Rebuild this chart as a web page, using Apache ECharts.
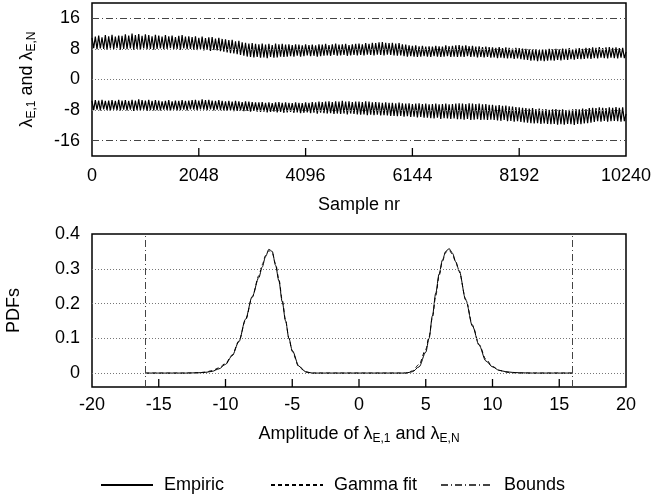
<!DOCTYPE html>
<html><head><meta charset="utf-8">
<script src="https://cdn.jsdelivr.net/npm/echarts@6/dist/echarts.min.js"></script>
<style>html,body{margin:0;padding:0;background:#fff}#c{width:654px;height:501px}</style>
</head><body><div id="c"></div>
<script>
// ---- top panel: eigenvalue traces (one value every sampleStep samples) ----
const sampleStep = 32;
const lambdaEN = [
10.9,8.2,11.2,7.9,11.5,8.1,11.0,8.0,11.6,7.8,11.3,8.1,11.7,7.9,11.2,8.2,11.5,7.8,11.4,8.0,
11.8,7.9,11.5,8.1,12.0,7.8,11.6,8.0,11.9,7.7,11.4,8.1,11.8,7.9,11.6,8.0,11.3,7.8,11.7,8.0,
11.5,8.1,11.2,7.9,11.6,8.0,11.3,8.2,11.5,7.9,11.1,8.0,11.4,7.8,11.6,8.1,11.2,7.9,11.3,8.0,
11.1,7.8,11.3,7.7,10.9,7.9,11.2,7.6,10.8,7.8,11.0,7.5,11.1,7.7,10.7,7.6,10.9,7.4,10.6,7.3,
10.5,7.1,10.3,6.9,10.4,6.8,10.0,6.6,10.1,6.4,9.7,6.2,9.6,6.0,9.4,5.9,9.5,5.8,9.3,5.9,
9.2,5.7,9.4,5.8,9.1,5.6,9.3,5.9,9.0,5.7,9.4,5.8,9.2,6.0,9.3,5.9,9.1,6.0,9.2,6.1,
9.0,6.0,9.2,6.2,9.1,6.0,8.9,6.1,9.2,6.3,9.0,6.1,9.1,6.2,8.9,6.0,9.2,6.1,9.1,6.2,
9.3,6.3,9.0,6.2,9.2,6.4,9.4,6.2,9.1,6.3,9.2,6.4,9.3,6.2,9.0,6.3,9.2,6.4,9.3,6.3,
9.4,6.4,9.2,6.3,9.5,6.5,9.3,6.4,9.6,6.3,9.5,6.5,9.7,6.4,9.8,6.3,9.6,6.5,9.5,6.4,
9.6,6.3,9.4,6.2,9.5,6.3,9.2,6.1,9.1,6.0,8.9,6.1,8.8,6.0,8.9,5.9,8.7,6.0,8.8,6.1,
8.6,6.0,8.7,5.9,8.6,6.1,8.8,6.0,8.7,5.9,8.6,6.0,8.9,6.1,8.7,5.9,8.8,6.0,8.9,5.9,
9.0,6.0,8.8,5.9,8.9,6.1,8.7,5.9,8.8,6.0,8.6,5.8,8.7,5.9,8.5,5.8,8.6,5.9,8.5,5.7,
8.4,5.8,8.3,5.6,8.5,5.7,8.2,5.6,8.4,5.5,8.3,5.6,8.1,5.4,8.3,5.5,8.2,5.3,8.1,5.2,
8.0,5.1,7.9,4.9,7.8,5.0,7.9,4.8,7.7,4.9,7.9,4.8,7.8,4.9,8.0,5.0,7.9,4.9,8.0,5.1,
7.9,5.0,8.1,5.2,8.0,5.1,8.2,5.3,7.9,5.2,8.1,5.4,8.2,5.3,8.0,5.4,8.3,5.5,8.2,5.4,
8.4,5.6,8.3,5.5,8.5,5.7,8.2,5.6,8.4,5.5,8.5,5.7,8.3,5.6,8.4,5.5,8.2,5.7,8.3,5.6,
7.2];
const lambdaE1 = [
-5.6,-8.0,-5.4,-7.9,-5.5,-8.1,-5.3,-7.8,-5.6,-8.0,-5.5,-8.2,-5.4,-7.9,-5.6,-8.0,-5.3,-8.1,-5.5,-7.9,
-5.4,-8.1,-5.6,-7.9,-5.3,-8.2,-5.5,-8.0,-5.2,-8.1,-5.4,-7.9,-5.5,-8.2,-5.3,-8.0,-5.6,-8.1,-5.4,-8.0,
-5.5,-8.1,-5.7,-7.9,-5.6,-8.0,-5.4,-8.2,-5.7,-7.9,-5.5,-8.1,-5.6,-8.0,-5.4,-7.9,-5.6,-8.1,-5.5,-7.8,
-5.4,-7.9,-5.3,-8.0,-5.5,-7.8,-5.2,-7.9,-5.4,-8.0,-5.3,-7.8,-5.5,-8.1,-5.6,-7.9,-5.4,-8.0,-5.6,-8.1,
-5.7,-8.2,-5.6,-8.1,-5.8,-8.3,-5.6,-8.2,-5.7,-8.1,-5.9,-8.3,-5.7,-8.2,-5.8,-8.4,-5.9,-8.2,-6.0,-8.4,
-6.0,-8.5,-5.9,-8.4,-6.1,-8.6,-6.0,-8.5,-6.2,-8.4,-6.0,-8.6,-5.9,-8.5,-6.1,-8.7,-6.0,-8.6,-6.1,-8.5,
-6.2,-8.7,-6.0,-8.6,-6.1,-8.8,-6.2,-8.7,-6.0,-8.6,-6.1,-8.8,-5.9,-8.7,-6.0,-8.9,-5.8,-8.7,-5.9,-8.8,
-5.8,-8.9,-5.7,-8.8,-5.9,-9.0,-5.7,-8.9,-5.8,-9.0,-5.6,-8.9,-5.8,-9.1,-5.7,-8.9,-5.9,-9.0,-5.8,-9.1,
-5.8,-9.2,-5.9,-9.1,-5.7,-9.3,-5.8,-9.2,-6.0,-9.3,-5.9,-9.2,-6.0,-9.4,-6.1,-9.3,-6.0,-9.4,-6.1,-9.5,
-6.1,-9.5,-6.2,-9.6,-6.0,-9.5,-6.2,-9.7,-6.3,-9.6,-6.2,-9.8,-6.4,-9.7,-6.3,-9.9,-6.2,-9.8,-6.4,-10.0,
-6.3,-10.0,-6.5,-10.1,-6.4,-10.2,-6.3,-10.0,-6.5,-10.3,-6.4,-10.1,-6.3,-10.2,-6.5,-10.3,-6.4,-10.2,-6.3,-10.4,
-6.2,-10.4,-6.3,-10.5,-6.4,-10.3,-6.2,-10.6,-6.3,-10.5,-6.4,-10.4,-6.3,-10.6,-6.5,-10.5,-6.4,-10.6,-6.6,-10.5,
-6.6,-10.6,-6.8,-10.7,-6.7,-10.8,-6.9,-10.6,-6.8,-10.9,-7.0,-10.8,-7.1,-11.0,-7.2,-10.9,-7.3,-11.1,-7.4,-11.2,
-7.5,-11.3,-7.6,-11.4,-7.5,-11.5,-7.7,-11.4,-7.6,-11.6,-7.8,-11.5,-7.7,-11.6,-7.9,-11.7,-7.8,-11.6,-7.7,-11.8,
-7.9,-11.7,-7.8,-11.8,-8.0,-11.6,-7.9,-11.7,-7.8,-11.9,-7.7,-11.6,-7.8,-11.7,-7.6,-11.5,-7.7,-11.4,-7.5,-11.3,
-7.4,-11.1,-7.5,-10.9,-7.3,-11.0,-7.4,-10.8,-7.5,-11.0,-7.3,-10.9,-7.4,-10.8,-7.2,-10.9,-7.4,-11.0,-7.3,-10.9,
-9.0];
const sampleRange = [0, 10240];
const sampleInterval = 2048;
const sampleTicks = [2048, 4096, 6144, 8192];
const lambdaRange = [-20, 20];
const lambdaTicks = [-16, -8, 0, 8, 16];
const lambdaGrid = [-8, 0, 8];
const bounds = [-16, 16];

// ---- bottom panel: PDFs ----
const amplitude = [-16,-13,-12,-11.5,-11,-10.5,-10,-9.5,-9,-8.5,-8,-7.5,-7.25,-7,-6.75,-6.5,-6.25,-6,-5.75,-5.5,-5.25,-5,-4.5,-4,-3.5,
  3.5,4,4.5,5,5.25,5.5,5.75,6,6.25,6.5,6.75,7,7.25,7.5,8,8.5,9,9.5,10,10.5,11,11.5,12,13,16];
const empiric = [0,0,0.001,0.002,0.005,0.012,0.025,0.05,0.09,0.155,0.22,0.275,0.305,0.335,0.356,0.35,0.31,0.265,0.205,0.15,0.1,0.065,0.02,0.004,0,
  0,0.004,0.018,0.06,0.1,0.165,0.23,0.285,0.325,0.35,0.358,0.345,0.32,0.295,0.21,0.135,0.08,0.035,0.018,0.008,0.004,0.002,0.001,0,0];
const gammaFit = [0,0,0.001,0.003,0.007,0.015,0.028,0.052,0.092,0.152,0.218,0.28,0.312,0.338,0.352,0.345,0.315,0.27,0.21,0.152,0.1,0.062,0.018,0.003,0,
  0,0.006,0.025,0.068,0.105,0.16,0.222,0.28,0.322,0.348,0.353,0.342,0.318,0.292,0.212,0.138,0.082,0.04,0.019,0.008,0.003,0.001,0,0,0];
const ampRange = [-20, 20];
const ampInterval = 5;
const ampTicks = [-15, -10, -5, 0, 5, 10, 15];
const pdfRange = [-0.04, 0.4];
const pdfTicks = [0, 0.1, 0.2, 0.3, 0.4];
const pdfGrid = [0, 0.1, 0.2, 0.3];

const legendNames = ['Empiric', 'Gamma fit', 'Bounds'];

// ---- styles / layout ----
const FONT = 'Liberation Sans, Arial, Helvetica, sans-serif';
const FS = 18;
const GRID_H = 153;
const TICK_LEN = 8; // px
const dotted = { color: '#777', width: 1, type: [1, 2] };
const dashDot = { color: '#444', width: 1, type: [7, 3, 1, 3] };
const rich = {
  m: { fontSize: FS, lineHeight: 22, verticalAlign: 'middle', color: '#000', fontFamily: FONT },
  s: { fontSize: 12, lineHeight: 12, verticalAlign: 'bottom', color: '#000', fontFamily: FONT }
};

const chart = echarts.init(document.getElementById('c'), null, { renderer: 'canvas' });

function gridLines(name, xi, yi, values, key, style) {
  return {
    name, type: 'line', xAxisIndex: xi, yAxisIndex: yi, data: [], z: 1, silent: true,
    markLine: { silent: true, symbol: ['none', 'none'], label: { show: false }, animation: false,
      lineStyle: style, emphasis: { disabled: true },
      data: values.map(v => ({ [key]: v })) }
  };
}
// inward ticks on the bottom frame: thin rect symbols anchored at each tick value on the axis minimum
function tickMarks(name, xi, yi, ticks, yMin) {
  return {
    name, type: 'scatter', xAxisIndex: xi, yAxisIndex: yi, z: 20, zlevel: 1, silent: true, clip: false,
    symbol: 'rect', symbolSize: [1.3, TICK_LEN], symbolOffset: [0, -TICK_LEN / 2],
    itemStyle: { color: '#000', opacity: 1 }, emphasis: { disabled: true },
    data: ticks.map(v => [v, yMin])
  };
}

const legendBase = {
  itemWidth: 52, itemHeight: 14, top: 476, padding: 0,
  itemStyle: { color: 'rgba(0,0,0,0)', borderWidth: 0, opacity: 0 },
  textStyle: { fontSize: FS, color: '#000', fontFamily: FONT, padding: [0, 0, 0, 6] },
  selectedMode: false
};
const plainNum = v => String(v);
const hiddenLine = { show: false, onZero: false };

chart.setOption({
  animation: false,
  textStyle: { fontFamily: FONT },
  grid: [
    { left: 92, right: 28, top: 3, height: GRID_H, outerBoundsMode: 'none', show: true, borderColor: '#000', borderWidth: 1.5, backgroundColor: 'transparent' },
    { left: 92, right: 28, top: 234, height: GRID_H, outerBoundsMode: 'none', show: true, borderColor: '#000', borderWidth: 1.5, backgroundColor: 'transparent' }
  ],
  legend: [
    Object.assign({}, legendBase, { data: [legendNames[0]], left: 100 }),
    Object.assign({}, legendBase, { data: [legendNames[1]], left: 270 }),
    Object.assign({}, legendBase, { data: [legendNames[2]], left: 440 })
  ],
  xAxis: [
    { type: 'value', gridIndex: 0, min: sampleRange[0], max: sampleRange[1], interval: sampleInterval,
      axisLine: hiddenLine, splitLine: { show: false }, axisTick: { show: false },
      axisLabel: { fontSize: FS, color: '#000', margin: 11, fontFamily: FONT, formatter: plainNum },
      name: 'Sample nr', nameLocation: 'middle', nameGap: 40,
      nameTextStyle: { fontSize: FS, color: '#000', fontFamily: FONT } },
    { type: 'value', gridIndex: 1, min: ampRange[0], max: ampRange[1], interval: ampInterval,
      axisLine: hiddenLine, splitLine: { show: false }, axisTick: { show: false },
      axisLabel: { fontSize: FS, color: '#000', margin: 9, fontFamily: FONT, formatter: plainNum },
      name: '{m|Amplitude of λ}{s|E,1}{m| and λ}{s|E,N}', nameLocation: 'middle', nameGap: 36,
      nameTextStyle: { rich } }
  ],
  yAxis: [
    { type: 'value', gridIndex: 0, min: lambdaRange[0], max: lambdaRange[1],
      axisLine: hiddenLine, splitLine: { show: false }, axisTick: { show: false },
      axisLabel: { customValues: lambdaTicks, fontSize: FS, color: '#000', margin: 12, fontFamily: FONT },
      name: '{m|λ}{s|E,1}{m| and λ}{s|E,N}', nameLocation: 'middle', nameGap: 54, nameRotate: 90,
      nameTextStyle: { rich } },
    { type: 'value', gridIndex: 1, min: pdfRange[0], max: pdfRange[1],
      axisLine: hiddenLine, splitLine: { show: false }, axisTick: { show: false },
      axisLabel: { customValues: pdfTicks, fontSize: FS, color: '#000', margin: 12, fontFamily: FONT },
      name: '{m|PDFs}', nameLocation: 'middle', nameGap: 67, nameRotate: 90,
      nameTextStyle: { rich } }
  ],
  series: [
    gridLines('grid-top', 0, 0, lambdaGrid, 'yAxis', dotted),
    gridLines('grid-bottom', 1, 1, pdfGrid, 'yAxis', dotted),
    tickMarks('ticks-top', 0, 0, sampleTicks, lambdaRange[0]),
    tickMarks('ticks-bottom', 1, 1, ampTicks, pdfRange[0]),
    { name: 'Bounds', type: 'line', xAxisIndex: 0, yAxisIndex: 0, data: [], z: 2, symbol: 'none',
      lineStyle: dashDot,
      markLine: { silent: true, symbol: ['none', 'none'], label: { show: false }, animation: false,
        lineStyle: dashDot, emphasis: { disabled: true }, data: bounds.map(v => ({ yAxis: v })) } },
    { name: 'Bounds', type: 'line', xAxisIndex: 1, yAxisIndex: 1, data: [], z: 2, symbol: 'none',
      lineStyle: dashDot,
      markLine: { silent: true, symbol: ['none', 'none'], label: { show: false }, animation: false,
        lineStyle: dashDot, emphasis: { disabled: true }, data: bounds.map(v => ({ xAxis: v })) } },
    { name: 'λE,N', type: 'line', xAxisIndex: 0, yAxisIndex: 0, z: 3, symbol: 'none', silent: true,
      lineStyle: { color: '#000', width: 1.2 },
      data: lambdaEN.map((v, i) => [i * sampleStep, v]) },
    { name: 'λE,1', type: 'line', xAxisIndex: 0, yAxisIndex: 0, z: 3, symbol: 'none', silent: true,
      lineStyle: { color: '#000', width: 1.2 },
      data: lambdaE1.map((v, i) => [i * sampleStep, v]) },
    { name: 'Gamma fit', type: 'line', xAxisIndex: 1, yAxisIndex: 1, z: 3, symbol: 'none', silent: true,
      smooth: 0.3, smoothMonotone: 'x',
      lineStyle: { color: '#000', width: 1, type: [4, 3] },
      data: amplitude.map((x, i) => [x, gammaFit[i]]) },
    { name: 'Empiric', type: 'line', xAxisIndex: 1, yAxisIndex: 1, z: 4, symbol: 'none', silent: true,
      smooth: 0.3, smoothMonotone: 'x',
      lineStyle: { color: '#000', width: 1 },
      data: amplitude.map((x, i) => [x, empiric[i]]) }
  ]
});
</script>
</body></html>
